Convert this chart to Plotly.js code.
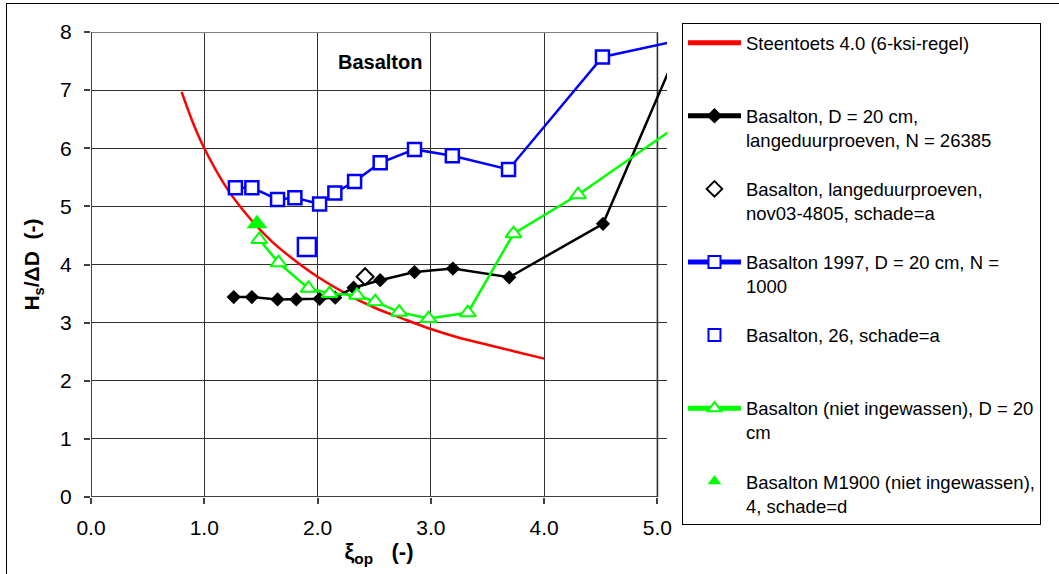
<!DOCTYPE html>
<html>
<head>
<meta charset="utf-8">
<script src="https://cdn.plot.ly/plotly-3.0.1.min.js"></script>
<style>
html,body{margin:0;padding:0;background:#fff;}
#wrap{position:relative;width:1059px;height:574px;}
#chart{width:1059px;height:574px;}
#frame{position:absolute;left:6px;top:3px;width:1060px;height:580px;border-top:1.5px solid #000;border-left:1.5px solid #000;pointer-events:none;}
</style>
</head>
<body>
<div id="wrap"><div id="chart"></div><div id="frame"></div></div>
<script>
// Steentoets 4.0 (6-ksi-regel) curve
const redX = [0.8, 0.9, 1.0, 1.2, 1.4, 1.6, 1.8, 2.0, 2.25, 2.5, 2.75, 3.0, 3.25, 3.5, 3.75, 4.0];
const redY = [6.97, 6.44, 6.0, 5.31, 4.8, 4.39, 4.07, 3.79, 3.50, 3.26, 3.07, 2.89, 2.74, 2.62, 2.50, 2.38];

// Basalton, D = 20 cm, langeduurproeven, N = 26385
const blackX = [1.26, 1.42, 1.647, 1.812, 2.018, 2.156, 2.318, 2.553, 2.856, 3.195, 3.692, 4.52, 5.2];
const blackY = [3.44, 3.44, 3.40, 3.40, 3.41, 3.43, 3.60, 3.73, 3.87, 3.93, 3.78, 4.70, 7.78];

// Basalton, langeduurproeven, nov03-4805, schade=a
const openDiaX = [2.42];
const openDiaY = [3.79];

// Basalton 1997, D = 20 cm, N = 1000
const blueX = [1.275, 1.42, 1.647, 1.80, 2.018, 2.153, 2.327, 2.553, 2.856, 3.19, 3.686, 4.515, 5.6];
const blueY = [5.32, 5.32, 5.12, 5.15, 5.04, 5.23, 5.43, 5.75, 5.98, 5.87, 5.635, 7.57, 8.03];

// Basalton, 26, schade=a
const blueSingleX = [1.906];
const blueSingleY = [4.30];

// Basalton (niet ingewassen), D = 20 cm
const greenX = [1.485, 1.656, 1.92, 2.106, 2.348, 2.509, 2.72, 2.98, 3.327, 3.73, 4.30, 5.6];
const greenY = [4.43, 4.03, 3.59, 3.50, 3.47, 3.36, 3.18, 3.07, 3.17, 4.53, 5.20, 6.96];

// Basalton M1900 (niet ingewassen), 4, schade=d
const greenFilledX = [1.465];
const greenFilledY = [4.70];

const names = [
  'Steentoets 4.0 (6-ksi-regel)<br> ',
  'Basalton, D = 20 cm,<br>langeduurproeven, N = 26385',
  'Basalton, langeduurproeven,<br>nov03-4805, schade=a',
  'Basalton 1997, D = 20 cm, N =<br>1000',
  'Basalton, 26, schade=a<br> ',
  'Basalton (niet ingewassen), D = 20<br>cm',
  'Basalton M1900 (niet ingewassen),<br>4, schade=d'
];

const FONT = 'Arial, "Liberation Sans", sans-serif';

const traces = [
  {x: redX, y: redY, name: names[0], mode: 'lines', line: {color: '#FF0000', width: 2.5, shape: 'spline'}, legendgroup: 'g0'},
  {x: blackX, y: blackY, name: names[1], mode: 'lines+markers', line: {color: '#000000', width: 2.5},
   marker: {symbol: 'diamond', size: 11, color: '#000000'}, legendgroup: 'g1'},
  {x: openDiaX, y: openDiaY, name: names[2], mode: 'markers',
   marker: {symbol: 'diamond-open', size: 13, color: '#000000', line: {width: 2, color: '#000000'}}, legendgroup: 'g2'},
  {x: blueX, y: blueY, name: names[3], mode: 'lines+markers', line: {color: '#0000FF', width: 2.5},
   marker: {symbol: 'square', size: 13, color: '#FFFFFF', line: {width: 2.5, color: '#0000FF'}}, legendgroup: 'g3'},
  {x: blueSingleX, y: blueSingleY, name: names[4], mode: 'markers',
   marker: {symbol: 'square', size: 18, color: '#FFFFFF', line: {width: 2.5, color: '#0000FF'}}, legendgroup: 'g4'},
  {x: greenX, y: greenY, name: names[5], mode: 'lines+markers', line: {color: '#00FF00', width: 2.5},
   marker: {symbol: 'triangle-up', size: 14, color: '#FFFFFF', line: {width: 2, color: '#00FF00'}}, legendgroup: 'g5'},
  {x: greenFilledX, y: greenFilledY, name: names[6], mode: 'markers',
   marker: {symbol: 'triangle-up', size: 18, color: '#00FF00'}, legendgroup: 'g6'}
];

const layout = {
  width: 1059, height: 574,
  margin: {l: 91, r: 392, t: 32, b: 77},
  paper_bgcolor: '#FFFFFF', plot_bgcolor: '#FFFFFF',
  font: {family: FONT, size: 18, color: '#000000'},
  showlegend: true,
  legend: {
    x: 1.026, y: 1.019, xanchor: 'left', yanchor: 'top',
    bgcolor: '#FFFFFF', bordercolor: '#000000', borderwidth: 1,
    font: {family: FONT, size: 18.5, color: '#000000'},
    valign: 'top', itemwidth: 53, tracegroupgap: 22, itemsizing: 'constant',
    entrywidth: 290, entrywidthmode: 'pixels',
    maxheight: 560,
    itemclick: false, itemdoubleclick: false
  },
  xaxis: {
    range: [0, 5.085], dtick: 1, tick0: 0, tickformat: '.1f',
    showgrid: true, gridcolor: '#303030', gridwidth: 1,
    zeroline: false, showline: false,
    ticks: 'outside', ticklen: 6, tickcolor: '#404040', tickwidth: 2,
    ticklabelstandoff: 6,
    tickfont: {family: FONT, size: 21},
    title: {text: '<b>ξ<sub>op</sub>\u00a0\u00a0 (-)</b>', font: {family: FONT, size: 22}, standoff: 5}
  },
  yaxis: {
    range: [0, 8], dtick: 1, tick0: 0,
    showgrid: true, gridcolor: '#303030', gridwidth: 1,
    zeroline: false, showline: false,
    ticks: 'outside', ticklen: 6, tickcolor: '#404040', tickwidth: 2,
    ticklabelstandoff: 8,
    tickfont: {family: FONT, size: 21},
    title: {text: '<b>H<sub>s</sub>/ΔD\u00a0\u00a0(-)</b>', font: {family: FONT, size: 21}, standoff: 14}
  },
  shapes: [
    {type: 'line', xref: 'x', yref: 'y', x0: 0, x1: 5, y0: 8, y1: 8, line: {color: '#808080', width: 2}, layer: 'above'},
    {type: 'line', xref: 'x', yref: 'y', x0: 5, x1: 5, y0: 0, y1: 8, line: {color: '#808080', width: 2}, layer: 'below'},
    {type: 'line', xref: 'x', yref: 'y', x0: 0, x1: 5, y0: 0, y1: 0, line: {color: '#404040', width: 2}, layer: 'above'},
    {type: 'line', xref: 'x', yref: 'y', x0: 0, x1: 0, y0: 0, y1: 8, line: {color: '#404040', width: 2}, layer: 'above'}
  ],
  annotations: [
    {x: 2.55, y: 7.48, xref: 'x', yref: 'y', text: '<b>Basalton</b>', showarrow: false,
     font: {family: FONT, size: 20, color: '#000000'}}
  ]
};

Plotly.newPlot('chart', traces, layout, {displayModeBar: false, staticPlot: true});
</script>
</body>
</html>
